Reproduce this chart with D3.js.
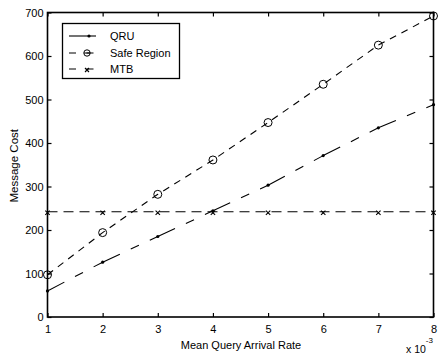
<!DOCTYPE html>
<html>
<head>
<meta charset="utf-8">
<script src="https://cdn.jsdelivr.net/npm/d3@7"></script>
<style>
  html, body { margin: 0; padding: 0; background: #fff; }
  svg { display: block; font-family: "Liberation Sans", Arial, sans-serif; }
</style>
</head>
<body>
<svg id="chart" width="439" height="355"></svg>
<script>
// Mean query arrival rate (x 10^-3)
const rates = [1, 2, 3, 4, 5, 6, 7, 8];
// Message cost per method
const qru = [60, 126, 185, 244, 303, 371, 435, 488];
const safeRegion = [97, 194, 282, 361, 447, 535, 625, 692];
const mtb = [242, 242, 242, 242, 242, 242, 242, 242];
const xTicks = [1, 2, 3, 4, 5, 6, 7, 8];
const yTicks = [0, 100, 200, 300, 400, 500, 600, 700];
const seriesNames = ["QRU", "Safe Region", "MTB"];

const svg = d3.select("#chart");
const plotL = 47.5, plotR = 433.5, plotT = 12.5, plotB = 317;

const x = d3.scaleLinear().domain([1, 8]).range([plotL, plotR]);
const y = d3.scaleLinear().domain([0, 700]).range([plotB, plotT]);

const tickLen = 4;
const fontSize = 11;

// Axes: bottom/left with labels, top/right ticks only, all ticks inward
svg.append("g").attr("transform", `translate(0,${plotB})`)
  .call(d3.axisBottom(x).tickValues(xTicks).tickSize(-tickLen).tickPadding(8).tickFormat(d3.format("d")));
svg.append("g").attr("transform", `translate(${plotL},0)`)
  .call(d3.axisLeft(y).tickValues(yTicks).tickSize(-tickLen).tickPadding(4).tickFormat(d3.format("d")));
svg.append("g").attr("transform", `translate(0,${plotT})`)
  .call(d3.axisTop(x).tickValues(xTicks).tickSize(-tickLen).tickFormat(""));
svg.append("g").attr("transform", `translate(${plotR},0)`)
  .call(d3.axisRight(y).tickValues(yTicks).tickSize(-tickLen).tickFormat(""));

svg.selectAll(".domain").remove();
svg.selectAll(".tick line").attr("stroke", "#000").attr("stroke-width", 1.2);
svg.selectAll(".tick text").attr("font-size", fontSize).attr("fill", "#000")
  .attr("font-family", "Liberation Sans, Arial, sans-serif");

// Frame
svg.append("rect")
  .attr("x", plotL).attr("y", plotT)
  .attr("width", plotR - plotL).attr("height", plotB - plotT)
  .attr("fill", "none").attr("stroke", "#000").attr("stroke-width", 1.6);

const plot = svg.append("g");

// QRU: dash pattern restarts at each data point
const qruPts = rates.map((r, i) => [x(r), y(qru[i])]);
for (let i = 0; i < qruPts.length - 1; i++) {
  plot.append("line")
    .attr("x1", qruPts[i][0]).attr("y1", qruPts[i][1])
    .attr("x2", qruPts[i + 1][0]).attr("y2", qruPts[i + 1][1])
    .attr("stroke", "#000").attr("stroke-width", 1.1)
    .attr("stroke-dasharray", "19,12,9,12");
}
plot.selectAll(".qru-dot").data(qruPts).join("circle")
  .attr("cx", d => d[0]).attr("cy", d => d[1]).attr("r", 1.6).attr("fill", "#000");

// Safe Region
const line = d3.line().x((d, i) => x(rates[i])).y(d => y(d));
plot.append("path").datum(safeRegion)
  .attr("d", line).attr("fill", "none").attr("stroke", "#000")
  .attr("stroke-width", 1.1).attr("stroke-dasharray", "7,6");
plot.selectAll(".safe-dot").data(safeRegion).join("circle")
  .attr("cx", (d, i) => x(rates[i])).attr("cy", d => y(d)).attr("r", 4)
  .attr("fill", "none").attr("stroke", "#000").attr("stroke-width", 1);

// MTB
plot.append("path").datum(mtb)
  .attr("d", line).attr("fill", "none").attr("stroke", "#000")
  .attr("stroke-width", 1.1).attr("stroke-dasharray", "10,6");
const xMark = (cx, cy, s) => `M${cx - s},${cy - s}L${cx + s},${cy + s}M${cx - s},${cy + s}L${cx + s},${cy - s}`;
plot.selectAll(".mtb-mark").data(mtb).join("path")
  .attr("d", (d, i) => xMark(x(rates[i]), y(d) + 1, 2.2))
  .attr("stroke", "#000").attr("stroke-width", 1.1).attr("fill", "none");

// Legend
const lg = svg.append("g");
lg.append("rect").attr("x", 62.5).attr("y", 23.5).attr("width", 117).attr("height", 55)
  .attr("fill", "#fff").attr("stroke", "#000").attr("stroke-width", 1.3);
const rowsY = [36, 53, 69];
const sx0 = 69, sx1 = 104, mx = 87;
// QRU sample
lg.append("line").attr("x1", sx0).attr("x2", 96).attr("y1", rowsY[0]).attr("y2", rowsY[0])
  .attr("stroke", "#000").attr("stroke-width", 1.1);
lg.append("circle").attr("cx", 89).attr("cy", rowsY[0]).attr("r", 1.6).attr("fill", "#000");
// Safe Region sample
lg.append("line").attr("x1", sx0).attr("x2", sx1).attr("y1", rowsY[1]).attr("y2", rowsY[1])
  .attr("stroke", "#000").attr("stroke-width", 1.1).attr("stroke-dasharray", "7,10.5");
lg.append("circle").attr("cx", mx).attr("cy", rowsY[1]).attr("r", 3.2)
  .attr("fill", "none").attr("stroke", "#000").attr("stroke-width", 1);
lg.append("line").attr("x1", mx - 3).attr("x2", mx + 3).attr("y1", rowsY[1]).attr("y2", rowsY[1])
  .attr("stroke", "#000").attr("stroke-width", 1);
// MTB sample
lg.append("line").attr("x1", sx0).attr("x2", sx1).attr("y1", rowsY[2]).attr("y2", rowsY[2])
  .attr("stroke", "#000").attr("stroke-width", 1.1).attr("stroke-dasharray", "7,10.5");
lg.append("path").attr("d", xMark(mx, rowsY[2] + 1, 2)).attr("stroke", "#000")
  .attr("stroke-width", 1.1).attr("fill", "none");

lg.selectAll(".lt").data(seriesNames).join("text")
  .attr("x", 110).attr("y", (d, i) => rowsY[i] + 4)
  .attr("font-size", fontSize).attr("fill", "#000").text(d => d);

// Axis titles
svg.append("text")
  .attr("x", (plotL + plotR) / 2 + 0.5).attr("y", 349)
  .attr("text-anchor", "middle").attr("font-size", fontSize).text("Mean Query Arrival Rate");
svg.append("text")
  .attr("transform", `translate(17.5,${(plotT + plotB) / 2 + 1}) rotate(-90)`)
  .attr("text-anchor", "middle").attr("font-size", 11.5).text("Message Cost");

// Exponent note
const ex = svg.append("text").attr("x", 406).attr("y", 353).attr("font-size", 10.5);
ex.append("tspan").text("x 10");
ex.append("tspan").attr("dy", -10).attr("font-size", 8).text("-3");
</script>
</body>
</html>
